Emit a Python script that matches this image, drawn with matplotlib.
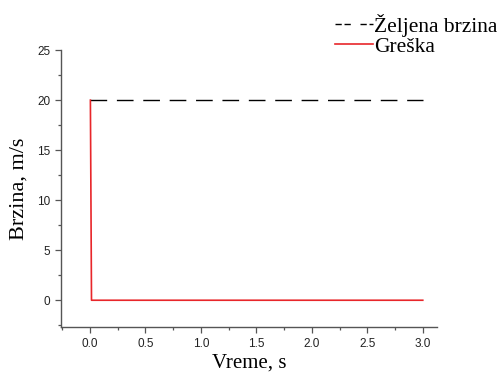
import matplotlib
matplotlib.use("Agg")
import matplotlib.pyplot as plt
from matplotlib.lines import Line2D
from matplotlib.ticker import MultipleLocator

t_ref = [0.0, 3.0]
v_ref = [20, 20]
t_err = [0.005, 0.015, 3.0]
v_err = [20, 0, 0]
xticks = [0.0, 0.5, 1.0, 1.5, 2.0, 2.5, 3.0]
yticks = [0, 5, 10, 15, 20, 25]
labels = ['Željena brzina', 'Greška']

fig = plt.figure(figsize=(4.97, 3.74), dpi=100)
ax = fig.add_axes([0.1227, 0.125, 0.757, 0.741])
ax.plot(t_ref, v_ref, color='black', lw=1.0, dashes=(12, 7))
ax.plot(t_err, v_err, color='#e8262a', lw=1.2)
ax.set_xlim(-0.26, 3.13)
ax.set_ylim(-2.7, 25)
ax.spines['top'].set_visible(False)
ax.spines['right'].set_visible(False)
for s in ('left', 'bottom'):
    ax.spines[s].set_color('#555555')
    ax.spines[s].set_linewidth(1.0)
ax.set_xticks(xticks)
ax.set_xticklabels([f"{v:.1f}" for v in xticks])
ax.set_yticks(yticks)
ax.xaxis.set_minor_locator(MultipleLocator(0.25))
ax.yaxis.set_minor_locator(MultipleLocator(2.5))
ax.tick_params(which='major', direction='out', length=4.5, width=0.9, labelsize=8.5, color='#555555', pad=3)
ax.tick_params(which='minor', direction='out', length=2.5, width=0.9, color='#555555')
for lab in ax.get_xticklabels() + ax.get_yticklabels():
    lab.set_family('Liberation Sans')
    lab.set_color('#222222')
ax.set_xlabel('Vreme, s', family='Liberation Serif', fontsize=15, labelpad=3)
ax.set_ylabel('Brzina, m/s', family='Liberation Serif', fontsize=16, labelpad=6)

h1 = Line2D([], [], color='black', lw=1.0, dashes=(4.5, 2, 4.5, 7))
h2 = Line2D([], [], color='#e8262a', lw=1.2)
fig.legend(handles=[h1, h2], labels=labels, loc='upper left', bbox_to_anchor=(0.674, 0.963),
           frameon=False, prop={'family': 'Liberation Serif', 'size': 15.5},
           handlelength=1.75, handletextpad=0.05, labelspacing=0.0, borderaxespad=0, borderpad=0)
fig.savefig('out.png', dpi=100)
